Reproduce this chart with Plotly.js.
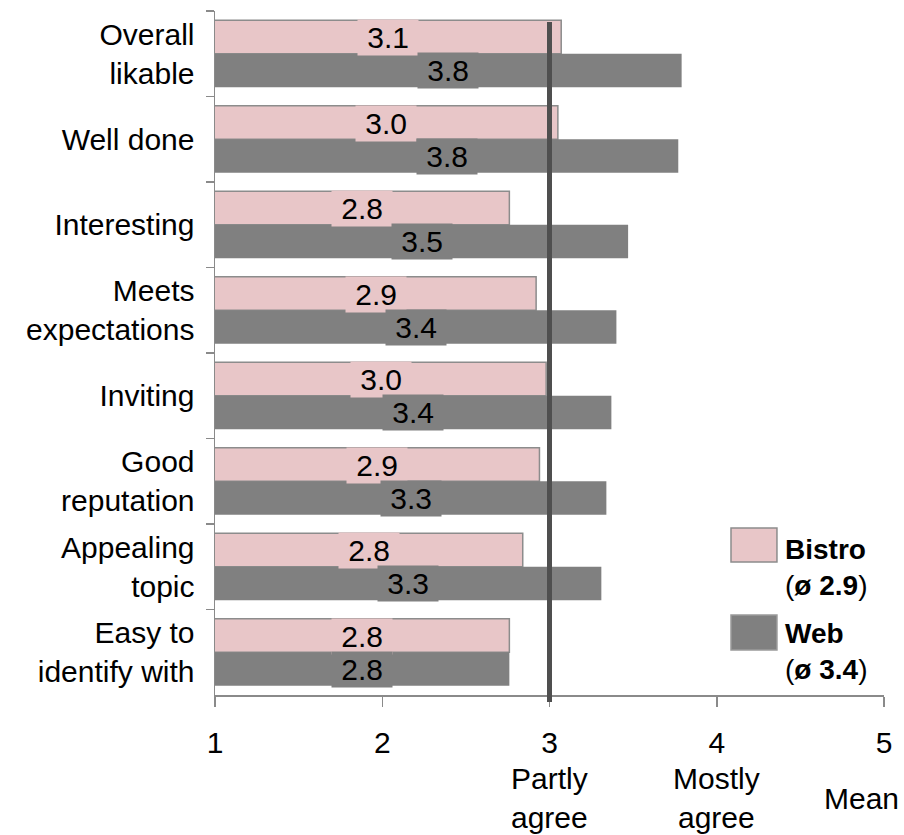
<!DOCTYPE html>
<html>
<head>
<meta charset="utf-8">
<script src="https://cdn.plot.ly/plotly-3.0.1.min.js"></script>
<style>
  html, body { margin: 0; padding: 0; background: #ffffff; }
  #chart { width: 904px; height: 835px; }
</style>
</head>
<body>
<div id="chart"></div>
<script>
// Survey items, top to bottom
const categories = [
  "Overall<br>likable",
  "Well done",
  "Interesting",
  "Meets<br>expectations",
  "Inviting",
  "Good<br>reputation",
  "Appealing<br>topic",
  "Easy to<br>identify with"
];

// Mean ratings per item (scale 1-5)
const bistroValues = [3.07, 3.05, 2.76, 2.92, 2.98, 2.94, 2.84, 2.76];
const webValues    = [3.79, 3.77, 3.47, 3.40, 3.37, 3.34, 3.31, 2.76];

const seriesNames = ["Bistro", "Web"];

// Scale ticks and their verbal anchors
const scaleTicks = [1, 2, 3, 4, 5];
const scaleAnchors = [
  { value: 3, text: "Partly<br>agree" },
  { value: 4, text: "Mostly<br>agree" }
];
const axisLabel = "Mean";
const neutralMark = 3;

const FONT = "Liberation Sans, Arial, Helvetica, sans-serif";
const FS = 30;
const PINK = "#e8c6c8";
const PINK_EDGE = "#8c8c8c";
const GREY = "#808080";
const AXIS = "#8a8a8a";

const mean = arr => arr.reduce((a, b) => a + b, 0) / arr.length;

const traces = [
  {
    type: "bar",
    orientation: "h",
    name: seriesNames[0],
    y: categories,
    x: bistroValues,
    marker: { color: PINK, line: { color: PINK_EDGE, width: 1.5 } },
    hoverinfo: "x+y+name"
  },
  {
    type: "bar",
    orientation: "h",
    name: seriesNames[1],
    y: categories,
    x: webValues,
    marker: { color: GREY, line: { color: GREY, width: 0 } },
    hoverinfo: "x+y+name"
  }
];

// Value labels sit at the middle of each bar, on a box in the bar's colour
const NB = "\u00a0";
function valueLabels(values, color, shift) {
  return values.map((v, i) => ({
    xref: "x", yref: "y",
    x: (1 + v) / 2,
    y: categories[i],
    yshift: shift,
    text: NB + v.toFixed(1) + NB,
    showarrow: false,
    bgcolor: color,
    borderpad: 1,
    font: { family: FONT, size: FS, color: "#000000" },
    xanchor: "center", yanchor: "middle"
  }));
}

const annotations = []
  .concat(valueLabels(bistroValues, PINK, 16))
  .concat(valueLabels(webValues, GREY, -17));

// Verbal anchors under the scale
scaleAnchors.forEach(a => {
  annotations.push({
    xref: "x", yref: "paper",
    x: a.value, y: -0.151,
    text: a.text,
    showarrow: false,
    font: { family: FONT, size: FS, color: "#000000" },
    xanchor: "center", yanchor: "middle", align: "center"
  });
});
annotations.push({
  xref: "paper", yref: "paper",
  x: 0.967, y: -0.151,
  text: axisLabel,
  showarrow: false,
  font: { family: FONT, size: FS, color: "#000000" },
  xanchor: "center", yanchor: "middle"
});

// Legend block (swatch + name + series average)
const legendItems = [
  { name: seriesNames[0], avg: mean(bistroValues), fill: PINK, edge: PINK_EDGE, y0: 0.1944, y1: 0.2442, ty: 0.187 },
  { name: seriesNames[1], avg: mean(webValues),    fill: GREY, edge: "#9a9a9a", y0: 0.0658, y1: 0.117,  ty: 0.0636 }
];

const shapes = [
  {
    type: "line", xref: "x", yref: "paper",
    x0: neutralMark, x1: neutralMark, y0: -0.0102, y1: 0.984,
    line: { color: "#4f4f4f", width: 5 }
  }
];

legendItems.forEach(it => {
  shapes.push({
    type: "rect", xref: "paper", yref: "paper",
    x0: 0.7713, x1: 0.840, y0: it.y0, y1: it.y1,
    fillcolor: it.fill, line: { color: it.edge, width: 1.5 }
  });
  annotations.push({
    xref: "paper", yref: "paper",
    x: 0.849, y: it.ty,
    text: "<b>" + it.name + "</b><br>(<b>\u00f8 " + it.avg.toFixed(1) + "</b>)",
    showarrow: false,
    align: "left",
    font: { family: FONT, size: 28, color: "#000000" },
    xanchor: "left", yanchor: "middle"
  });
});

const layout = {
  width: 904,
  height: 835,
  margin: { l: 215, r: 20, t: 11, b: 140 },
  paper_bgcolor: "#ffffff",
  plot_bgcolor: "#ffffff",
  barmode: "group",
  bargap: 0.216,
  bargroupgap: 0,
  showlegend: false,
  font: { family: FONT, size: FS, color: "#000000" },
  xaxis: {
    range: [1, 5],
    tickvals: scaleTicks,
    ticktext: scaleTicks.map(String),
    showgrid: false,
    zeroline: false,
    showline: true,
    linecolor: AXIS,
    linewidth: 1.5,
    ticks: "outside",
    ticklen: 10,
    tickwidth: 1.5,
    tickcolor: AXIS,
    ticklabelstandoff: 10,
    tickfont: { family: FONT, size: FS, color: "#000000" },
    fixedrange: true
  },
  yaxis: {
    type: "category",
    categoryorder: "array",
    categoryarray: categories,
    autorange: "reversed",
    showgrid: false,
    zeroline: false,
    showline: true,
    linecolor: AXIS,
    linewidth: 1.5,
    ticks: "outside",
    tickson: "boundaries",
    ticklen: 8,
    tickwidth: 1.5,
    tickcolor: AXIS,
    ticklabelstandoff: 13,
    tickfont: { family: FONT, size: FS, color: "#000000" },
    fixedrange: true
  },
  shapes: shapes,
  annotations: annotations
};

Plotly.newPlot("chart", traces, layout, { displayModeBar: false, staticPlot: true });
</script>
</body>
</html>
